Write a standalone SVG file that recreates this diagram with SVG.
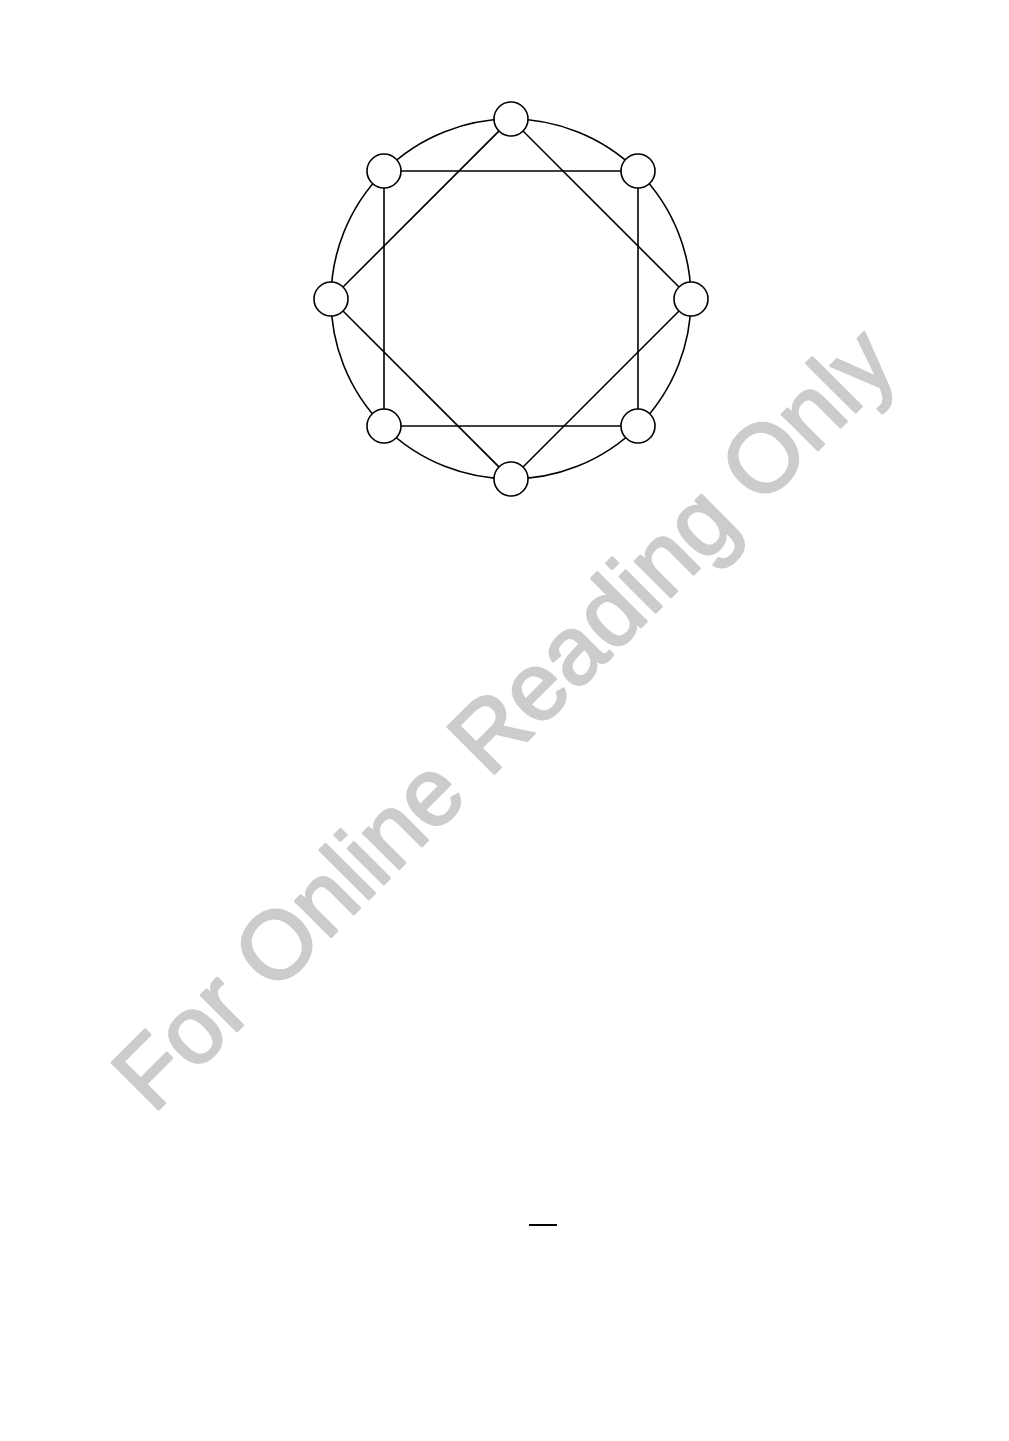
<svg xmlns="http://www.w3.org/2000/svg" width="1009" height="1441" viewBox="0 0 1009 1441">
<style>
.edge{stroke:#000;stroke-width:1.6;fill:none}
.thin{stroke-width:1.3}
.node{fill:#fff;stroke:#000;stroke-width:1.6}
.wm{font-family:"Liberation Sans",Arial,sans-serif;font-size:96px;fill:#cccccc;stroke:#cccccc;stroke-width:2.5;stroke-linejoin:round}
</style>
<rect width="1009" height="1441" fill="#fff"/>
<text class="wm" transform="translate(153,1115) rotate(-45)">For Online Reading Only</text>
<g id="connectors">
<circle class="edge" cx="511" cy="299" r="180"/>
<line class="edge thin" x1="384" y1="171" x2="638" y2="171"/>
<line class="edge" x1="638" y1="171" x2="638" y2="426"/>
<line class="edge thin" x1="638" y1="426" x2="384" y2="426"/>
<line class="edge" x1="384" y1="426" x2="384" y2="171"/>
<line class="edge" x1="511" y1="119" x2="691" y2="299"/>
<line class="edge" x1="691" y1="299" x2="511" y2="479"/>
<line class="edge" x1="511" y1="479" x2="331" y2="299"/>
<line class="edge" x1="331" y1="299" x2="511" y2="119"/>
</g>
<g id="n-top"><circle class="node" cx="511" cy="119" r="17"/></g>
<g id="n-topright"><circle class="node" cx="638" cy="171" r="17"/></g>
<g id="n-right"><circle class="node" cx="691" cy="299" r="17"/></g>
<g id="n-bottomright"><circle class="node" cx="638" cy="426" r="17"/></g>
<g id="n-bottom"><circle class="node" cx="511" cy="479" r="17"/></g>
<g id="n-bottomleft"><circle class="node" cx="384" cy="426" r="17"/></g>
<g id="n-left"><circle class="node" cx="331" cy="299" r="17"/></g>
<g id="n-topleft"><circle class="node" cx="384" cy="171" r="17"/></g>
<line x1="529" y1="1225" x2="557" y2="1225" stroke="#000" stroke-width="2"/>
</svg>
